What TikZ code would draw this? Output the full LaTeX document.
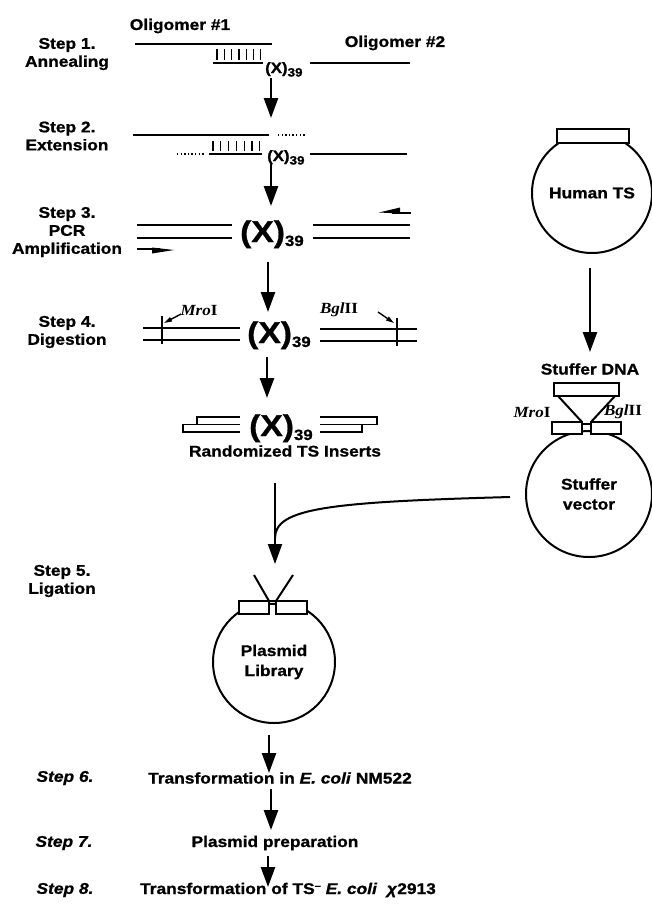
\documentclass[tikz,border=0pt]{standalone}
\usepackage{fontspec}
\usetikzlibrary{arrows.meta}
\newfontfamily\labfont{Liberation Sans}[FakeStretch=1.12, FakeBold=1.0]
\newfontfamily\serfont{Liberation Serif}[FakeStretch=1.1]
\newcommand\xsm{{\fontsize{15}{15}\selectfont(X)}\raisebox{-3.5pt}{\fontsize{12}{12}\selectfont 39}}
\newcommand\xbg{{\fontsize{30}{30}\selectfont(X)}\raisebox{-4pt}{\fontsize{15}{15}\selectfont 39}}
\tikzset{
  lbl/.style={font=\labfont\bfseries\fontsize{15.5}{18}\selectfont, inner sep=0pt, align=center},
  ilbl/.style={font=\labfont\bfseries\itshape\fontsize{15.5}{18}\selectfont, inner sep=0pt},
  enz/.style={font=\serfont\bfseries\fontsize{15.5}{15.5}\selectfont, inner sep=0pt},
  dna/.style={line width=2pt},
  tickln/.style={line width=1.2pt},
  dots/.style={line width=1.3pt, dash pattern=on 1.3pt off 2.3pt},
  flow/.style={line width=2.6pt, -{Triangle[length=20pt,width=14pt]}},
  thinflow/.style={line width=2pt, -{Triangle[length=20pt,width=14pt]}},
  ring/.style={circle, draw, line width=2pt, inner sep=0pt, align=center,
    font=\labfont\bfseries\fontsize{15.5}{20}\selectfont},
  box/.style={draw, line width=2pt, fill=white},
  pointer/.style={line width=1.4pt, -{Triangle[length=8pt,width=4.5pt]}}
}
\begin{document}
\begin{tikzpicture}[x=1pt,y=-1pt]
\useasboundingbox (0,0) rectangle (652,905);

% ---------- Step 1 ----------
\node[lbl] (s1) at (67,54) {Step 1.\\Annealing};
\node[lbl] (olig1) at (180,26) {Oligomer \#1};
\node[lbl] (olig2) at (395,43) {Oligomer \#2};
\draw[dna] (135,44) -- (272,44);
\draw[dna] (213,63) -- (263,63);
\foreach \x in {217,224.3,231.6,238.9,246.2,253.5,260.8} \draw[tickln] (\x,49) -- (\x,60);
\node[lbl, anchor=base west] (x1) at (265,73) {\xsm};
\draw[dna] (310,63) -- (410,63);
\coordinate (a1s) at (271,78);
\coordinate (a1e) at (271,118);
\draw[flow] (a1s) -- (a1e);

% ---------- Step 2 ----------
\node[lbl] (s2) at (67,136) {Step 2.\\Extension};
\draw[dna] (133,135) -- (269,135);
\draw[dots] (278,135) -- (306,135);
\draw[dots] (177,154) -- (204,154);
\draw[dna] (209,154) -- (262,154);
\foreach \x in {213,220.8,228.6,236.4,244.2,252,259.8} \draw[tickln] (\x,141) -- (\x,151);
\node[lbl, anchor=base west] (x2) at (267,161) {\xsm};
\draw[dna] (310,154) -- (407,154);
\coordinate (a2s) at (271,164);
\coordinate (a2e) at (271,206);
\draw[flow] (a2s) -- (a2e);

% ---------- Step 3 ----------
\node[lbl] (s3) at (67,232) {Step 3.\\PCR\\Amplification};
\draw[dna] (137,225) -- (232,225);
\draw[dna] (137,238) -- (232,238);
\node[lbl, anchor=base west] (x3) at (240,242) {\xbg};
\draw[dna] (313,225) -- (410,225);
\draw[dna] (313,238) -- (410,238);
% primers
\draw[dna] (137,249) -- (160,249);
\fill (152,247.5) -- (174,250) -- (152,253.5) -- cycle;
\draw[dna] (392,212.5) -- (411,212.5);
\fill (379,212.5) -- (400,207.5) -- (400,213.5) -- cycle;
\coordinate (a3s) at (268,262);
\coordinate (a3e) at (268,312);
\draw[flow] (a3s) -- (a3e);

% ---------- Step 4 ----------
\node[lbl] (s4) at (67,332) {Step 4.\\Digestion};
\draw[dna] (143,328) -- (240,328);
\draw[dna] (143,340) -- (240,340);
\draw[tickln, line width=1.5pt] (162,316) -- (162,344);
\node[enz] (mro1) at (199,310) {\textit{Mro}I};
\draw[pointer] (181,314) -- (164,323);
\node[lbl, anchor=base west] (x4) at (247,343) {\xbg};
\draw[dna] (320,329) -- (417,329);
\draw[dna] (320,341) -- (417,341);
\draw[tickln, line width=1.5pt] (397,318) -- (397,346);
\node[enz] (bgl1) at (339,310) {\textit{Bgl}II};
\draw[pointer] (378,312) -- (394,323);
\coordinate (a4s) at (267,357);
\coordinate (a4e) at (267,398);
\draw[flow] (a4s) -- (a4e);

% ---------- Inserts ----------
\draw[line width=1.8pt] (240,417) -- (197,417) -- (197,424.5) -- (183,424.5) -- (183,432) -- (240,432);
\draw[line width=1.2pt] (197,424.5) -- (240,424.5);
\node[lbl, anchor=base west] (x5) at (249,436) {\xbg};
\draw[line width=1.8pt] (320,417) -- (377,417) -- (377,424.5) -- (362,424.5) -- (362,432) -- (320,432);
\draw[line width=1.2pt] (320,424.5) -- (362,424.5);
\node[lbl] (ins) at (285,451) {Randomized TS Inserts};

% ---------- Human TS ----------
\node[ring, minimum size=120pt] (hts) at (592,193) {Human TS};
\draw[box] (557,129) rectangle (629,143);
\coordinate (h1s) at (590,268);
\coordinate (h1e) at (590,352);
\draw[flow] (h1s) -- (h1e);
\node[lbl] (sdna) at (590,369) {Stuffer DNA};

% ---------- Stuffer vector ----------
\node[ring, minimum size=126pt] (sv) at (589,494) {Stuffer\\vector};
\draw[box] (554,383) rectangle (619,396);
\draw[line width=2pt] (558,396) -- (582,422);
\draw[line width=2pt] (615,396) -- (591,422);
\draw[box] (552,422) rectangle (582,434);
\draw[box] (591,422) rectangle (621,434);
\draw[line width=1.5pt] (582,424) -- (591,424);
\node[enz] (mro2) at (532,412) {\textit{Mro}I};
\node[enz] (bgl2) at (623,412) {\textit{Bgl}II};

% ---------- Step 5 ----------
\node[lbl] (s5) at (62,581) {Step 5.\\Ligation};
\coordinate (a5s) at (275,483);
\coordinate (j5) at (275,538);
\coordinate (a5e) at (275,564);
\coordinate (vin) at (510,497);
\draw[line width=2pt] (a5s) -- (j5);
\draw[line width=2pt] (vin) .. controls (330,502) and (275,508) .. (j5);
\draw[thinflow] (j5) -- (a5e);

\node[ring, minimum size=122pt] (lib) at (274,662) {Plasmid\\Library};
\draw[box] (239,601) rectangle (269,614);
\draw[box] (276,601) rectangle (307,614);
\draw[line width=1.5pt] (269,604) -- (276,604);
\draw[line width=2pt] (254,575) -- (269,601);
\draw[line width=2pt] (293,575) -- (276,601);
\coordinate (a6s) at (269,735);
\coordinate (a6e) at (269,773);
\draw[flow] (a6s) -- (a6e);

% ---------- Steps 6-8 ----------
\node[ilbl] (s6) at (65,778) {Step 6.};
\node[lbl] (t6) at (280,778) {Transformation in \textit{E. coli} NM522};
\coordinate (a7s) at (271,789);
\coordinate (a7e) at (271,830);
\draw[flow] (a7s) -- (a7e);
\node[ilbl] (s7) at (64,843) {Step 7.};
\node[lbl] (t7) at (275,843) {Plasmid preparation};
\coordinate (a8s) at (268,856);
\coordinate (a8e) at (268,887);
\draw[flow] (a8s) -- (a8e);
\node[ilbl] (s8) at (65,890) {Step 8.};
\node[lbl] (t8) at (288,890) {Transformation of TS\raisebox{5pt}{\fontsize{10}{10}\selectfont\textendash}\ \textit{E. coli} \ \textit{χ}2913};
\end{tikzpicture}
\end{document}
